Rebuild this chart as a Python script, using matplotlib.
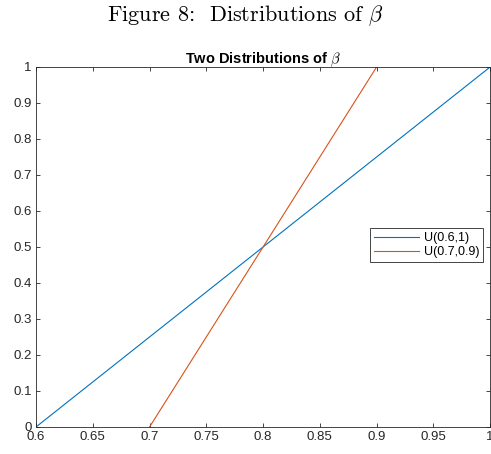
import matplotlib.pyplot as plt

plt.rcParams['font.family'] = ['Liberation Sans', 'DejaVu Sans']
plt.rcParams['mathtext.fontset'] = 'cm'

# CDF end points of the two uniform distributions
x_u1 = [0.6, 1.0]
y_u1 = [0.0, 1.0]
x_u2 = [0.7, 0.9]
y_u2 = [0.0, 1.0]
labels = ['U(0.6,1)', 'U(0.7,0.9)']
xticks = [0.6, 0.65, 0.7, 0.75, 0.8, 0.85, 0.9, 0.95, 1.0]
xticklabels = ['0.6', '0.65', '0.7', '0.75', '0.8', '0.85', '0.9', '0.95', '1']
yticks = [0, 0.1, 0.2, 0.3, 0.4, 0.5, 0.6, 0.7, 0.8, 0.9, 1.0]
yticklabels = ['0', '0.1', '0.2', '0.3', '0.4', '0.5', '0.6', '0.7', '0.8', '0.9', '1']

fig = plt.figure(figsize=(4.91, 4.54), dpi=100)
fig.text(0.5, 0.965, r'Figure 8:  Distributions of $\beta$', family='cmr10',
         ha='center', va='center', fontsize=16)

ax = fig.add_axes([0.0733, 0.0595, 0.925, 0.793])
ax.plot(x_u1, y_u1, color='#0072BD', lw=0.8, label=labels[0])
ax.plot(x_u2, y_u2, color='#D95319', lw=0.8, label=labels[1])

ax.set_xlim(0.6, 1.0)
ax.set_ylim(0, 1)
ax.set_xticks(xticks)
ax.set_xticklabels(xticklabels)
ax.set_yticks(yticks)
ax.set_yticklabels(yticklabels)
ax.tick_params(direction='in', top=True, right=True, length=3, width=0.6,
               colors='#262626', labelsize=9.5, pad=3)
for s in ax.spines.values():
    s.set_color('#262626')
    s.set_linewidth(0.6)

ax.set_title(r'Two Distributions of $\beta$', fontsize=10.5, fontweight='bold',
             color='black', pad=3)

leg = ax.legend(loc='center right', bbox_to_anchor=(0.985, 0.505), fontsize=9,
                fancybox=False, framealpha=1, edgecolor='#262626',
                handlelength=3.6, borderpad=0.3, labelspacing=0.2,
                handletextpad=0.4, borderaxespad=0)
leg.get_frame().set_linewidth(0.6)

fig.savefig('out.png', dpi=100)
